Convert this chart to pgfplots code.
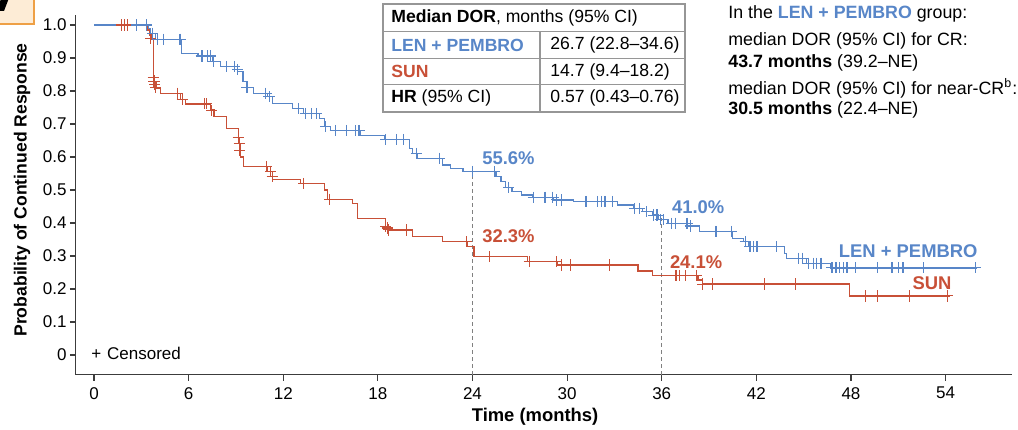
\documentclass[border=0pt]{standalone}
\usepackage{fontspec}
\setmainfont{Liberation Sans}
\usepackage{pgfplots}
\pgfplotsset{compat=1.18}
\definecolor{lenblue}{RGB}{88,134,200}
\definecolor{sunred}{RGB}{200,80,55}
\definecolor{axisgray}{RGB}{60,60,60}
\definecolor{tblgray}{RGB}{150,150,150}
\newcommand{\fsmall}{\fontsize{8.5}{10}\selectfont}
\newcommand{\fnote}{\fontsize{8.9}{10.5}\selectfont}
\newcommand{\ftab}{\fontsize{8.8}{10.5}\selectfont}
\newcommand{\fbig}{\fontsize{9.2}{11}\selectfont\bfseries}
\begin{document}
\begin{tikzpicture}
\useasboundingbox (0,0) rectangle (509pt,214.5pt);
% pixel frame: origin top left, 1 px = 0.5pt
\begin{scope}[x=0.5pt,y=-0.5pt,yshift=214.5pt]
  % panel tag, cut off
  \draw[draw={rgb,255:red,238;green,160;blue,70}, fill={rgb,255:red,253;green,236;blue,214}, line width=0.8pt] (-6,-6) rectangle (34,24);
  \fill[black] (1,-2) -- (9,-2) -- (4,11) -- (-2,11) -- cycle;
  % table
  \begin{scope}[tblgray, line width=0.6pt]
    \draw (383,4) rectangle (685,112);
    \draw (383,31.7) -- (685,31.7);
    \draw (383,58.3) -- (685,58.3);
    \draw (383,84.5) -- (685,84.5);
    \draw (540,31.7) -- (540,112);
  \end{scope}
  \begin{scope}[every node/.style={anchor=west, inner sep=0pt, font=\ftab}]
    \node at (391,18) {\textbf{Median DOR}, months (95\% CI)};
    \node at (391,45) {\textcolor{lenblue}{\bfseries LEN + PEMBRO}};
    \node at (391,71.5) {\textcolor{sunred}{\bfseries SUN}};
    \node at (391,97.5) {\textbf{HR} (95\% CI)};
    \node at (550,45) {26.7 (22.8–34.6)};
    \node at (550,71.5) {14.7 (9.4–18.2)};
    \node at (550,97.5) {0.57 (0.43–0.76)};
  \end{scope}
  % side note
  \begin{scope}[every node/.style={anchor=west, inner sep=0pt, font=\fnote}]
    \node at (728,13.5) {In the \textcolor{lenblue}{\bfseries LEN + PEMBRO} group:};
    \node at (728,40.5) {median DOR (95\% CI) for CR:};
    \node at (728,62.5) {\textbf{43.7 months} (39.2–NE)};
    \node at (728,88.5) {median DOR (95\% CI) for near-CR\textsuperscript{b}:};
    \node at (728,110) {\textbf{30.5 months} (22.4–NE)};
  \end{scope}
\end{scope}

\begin{axis}[
  at={(37.95pt,27.1pt)}, anchor=south west,
  scale only axis, width=467.95pt, height=179.85pt,
  xmin=-1.15, xmax=58.2, ymin=-0.06, ymax=1.03,
  axis lines=left,
  axis line style={-, draw=axisgray, line width=0.6pt},
  tick align=outside, major tick length=3pt,
  tick style={draw=axisgray, line width=0.6pt},
  xtick={0,6,12,18,24,30,36,42,48,54},
  ytick={0,0.1,0.2,0.3,0.4,0.5,0.6,0.7,0.8,0.9,1.0},
  yticklabels={0,0.1,0.2,0.3,0.4,0.5,0.6,0.7,0.8,0.9,1.0},
  /pgf/number format/assume math mode=true,
  ticklabel style={font=\fsmall},
  yticklabel style={inner sep=1.5pt},
  xticklabel style={inner sep=3pt},
  xlabel={Time (months)},
  ylabel={Probability of Continued Response},
  xlabel style={font=\fbig, at={(axis description cs:0.4906,-0.117)}, anchor=center},
  ylabel style={font=\fontsize{8.8}{10}\selectfont\bfseries, at={(axis description cs:-0.0576,0.514)}, anchor=center, rotate=0},
  clip=false,
]
% reference lines at 24 and 36 months
\addplot[gray, line width=0.5pt, dash pattern=on 2pt off 1.5pt] coordinates {(24,-0.06) (24,0.556)};
\addplot[gray, line width=0.5pt, dash pattern=on 2pt off 1.5pt] coordinates {(36,-0.06) (36,0.414)};

% SUN
\addplot[const plot, sunred, line width=0.65pt] coordinates {
(0,1.0) (3.35,0.985) (3.55,0.97) (3.65,0.955) (3.75,0.843) (3.85,0.825) (3.95,0.808)
(4.2,0.793) (5.5,0.775) (5.8,0.761) (7.4,0.742) (7.6,0.722) (8.4,0.687) (9.15,0.64)
(9.3,0.60) (9.47,0.571) (11.0,0.556) (11.3,0.532) (13.1,0.520) (14.6,0.50) (14.8,0.472)
(16.4,0.459) (16.7,0.414) (18.5,0.39) (18.7,0.379) (20.2,0.359) (22.1,0.343)
(23.7,0.328) (24.1,0.298) (27.5,0.283) (29.4,0.273) (34.5,0.255) (35.4,0.241)
(38.3,0.227) (38.6,0.215) (47.9,0.179) (54.3,0.179)};
\addplot[only marks, sunred, mark=+, mark size=2.8pt, mark options={line width=0.55pt}] coordinates {
(1.75,1.0) (1.95,1.0) (2.15,1.0) (3.6,0.96) (3.75,0.84) (3.8,0.83) (3.85,0.82) (3.9,0.81)
(5.3,0.793) (5.6,0.775) (7.0,0.761) (7.15,0.761) (7.46,0.742) (9.15,0.66) (9.2,0.64) (9.25,0.62)
(10.95,0.571) (11.2,0.556) (11.3,0.54) (13.3,0.520) (14.95,0.472) (18.5,0.39) (18.6,0.385)
(18.65,0.379) (19.8,0.379) (23.6,0.343) (25.1,0.298) (27.6,0.283) (29.35,0.283)
(29.65,0.273) (30.2,0.273) (32.7,0.273) (36.85,0.241) (36.95,0.241) (37.15,0.241)
(37.5,0.241) (38.2,0.241) (38.6,0.215) (39.2,0.215) (42.5,0.215) (44.5,0.215)
(48.9,0.179) (49.7,0.179) (51.7,0.179) (54.1,0.179)};

% LEN + PEMBRO
\addplot[const plot, lenblue, line width=0.65pt] coordinates {
(0,1.0) (3.45,0.99) (3.6,0.975) (3.9,0.957) (5.55,0.914) (6.6,0.906) (7.55,0.889)
(8.0,0.874) (9.1,0.859) (9.45,0.828) (9.7,0.811) (10.1,0.793) (11.0,0.783) (11.3,0.763)
(12.6,0.747) (13.3,0.732) (14.3,0.717) (14.6,0.692) (15.0,0.680) (16.9,0.665)
(18.4,0.653) (20.0,0.625) (20.2,0.611) (20.5,0.596) (22.1,0.576) (22.6,0.566)
(23.4,0.556) (25.5,0.540) (25.8,0.525) (26.1,0.508) (26.5,0.495) (27.1,0.485)
(27.8,0.478) (29.1,0.470) (30.4,0.465) (33.2,0.455) (34.2,0.444) (34.8,0.434)
(35.4,0.424) (35.8,0.410) (36.4,0.399) (37.6,0.391) (38.4,0.374) (40.5,0.353)
(41.2,0.343) (41.5,0.328) (43.8,0.308) (43.9,0.293) (45.2,0.278) (46.7,0.264) (56.0,0.264)};
\addplot[only marks, lenblue, mark=+, mark size=2.8pt, mark options={line width=0.55pt}] coordinates {
(2.7,1.0) (3.35,1.0) (3.7,0.975) (4.0,0.957) (4.4,0.957) (5.45,0.957)
(6.8,0.906) (6.9,0.906) (7.2,0.906) (7.4,0.906) (7.6,0.889) (8.4,0.874) (8.9,0.874)
(9.1,0.865) (9.7,0.811) (10.9,0.793) (11.1,0.783) (12.95,0.747) (13.4,0.732) (13.8,0.732)
(14.1,0.732) (14.7,0.692) (15.3,0.680) (16.0,0.680) (16.6,0.680) (16.8,0.680)
(18.5,0.653) (19.2,0.653) (19.6,0.653) (20.45,0.611) (21.9,0.596) (24.0,0.556)
(25.4,0.556) (26.3,0.508) (27.85,0.478) (28.6,0.478) (29.1,0.478) (29.35,0.470)
(29.65,0.470) (31.2,0.465) (31.9,0.465) (32.2,0.465) (32.4,0.465) (32.9,0.465)
(34.3,0.444) (34.6,0.444) (35.05,0.434) (35.5,0.424) (35.7,0.424) (35.9,0.410)
(36.1,0.410) (36.6,0.399) (36.9,0.399) (37.6,0.399) (37.8,0.391) (39.4,0.374)
(39.5,0.374) (40.4,0.374) (41.3,0.343) (41.6,0.328) (41.8,0.328) (42.0,0.328)
(42.1,0.328) (43.3,0.328) (44.7,0.293) (44.9,0.293) (45.3,0.278) (45.6,0.278)
(45.8,0.278) (46.1,0.278) (46.8,0.264) (47.0,0.264) (47.1,0.264) (47.3,0.264)
(47.5,0.264) (47.7,0.264) (47.8,0.264) (48.3,0.264) (49.7,0.264) (50.6,0.264)
(51.0,0.264) (51.3,0.264) (52.6,0.264) (55.9,0.264)};

% annotations
\node[anchor=west, inner sep=0pt, font=\fbig, text=lenblue] at (axis cs:24.6,0.597) {55.6\%};
\node[anchor=west, inner sep=0pt, font=\fbig, text=sunred] at (axis cs:24.6,0.361) {32.3\%};
\node[anchor=west, inner sep=0pt, font=\fbig, text=lenblue] at (axis cs:36.63,0.447) {41.0\%};
\node[anchor=west, inner sep=0pt, font=\fbig, text=sunred] at (axis cs:36.5,0.280) {24.1\%};
\node[anchor=east, inner sep=0pt, font=\fbig, text=lenblue] at (axis cs:56.05,0.316) {LEN + PEMBRO};
\node[anchor=east, inner sep=0pt, font=\fbig, text=sunred] at (axis cs:54.4,0.217) {SUN};
\node[anchor=west, inner sep=0pt, font=\fsmall] at (axis cs:-0.2,0.006) {+\hspace{3pt}Censored};
\end{axis}
\end{tikzpicture}
\end{document}
